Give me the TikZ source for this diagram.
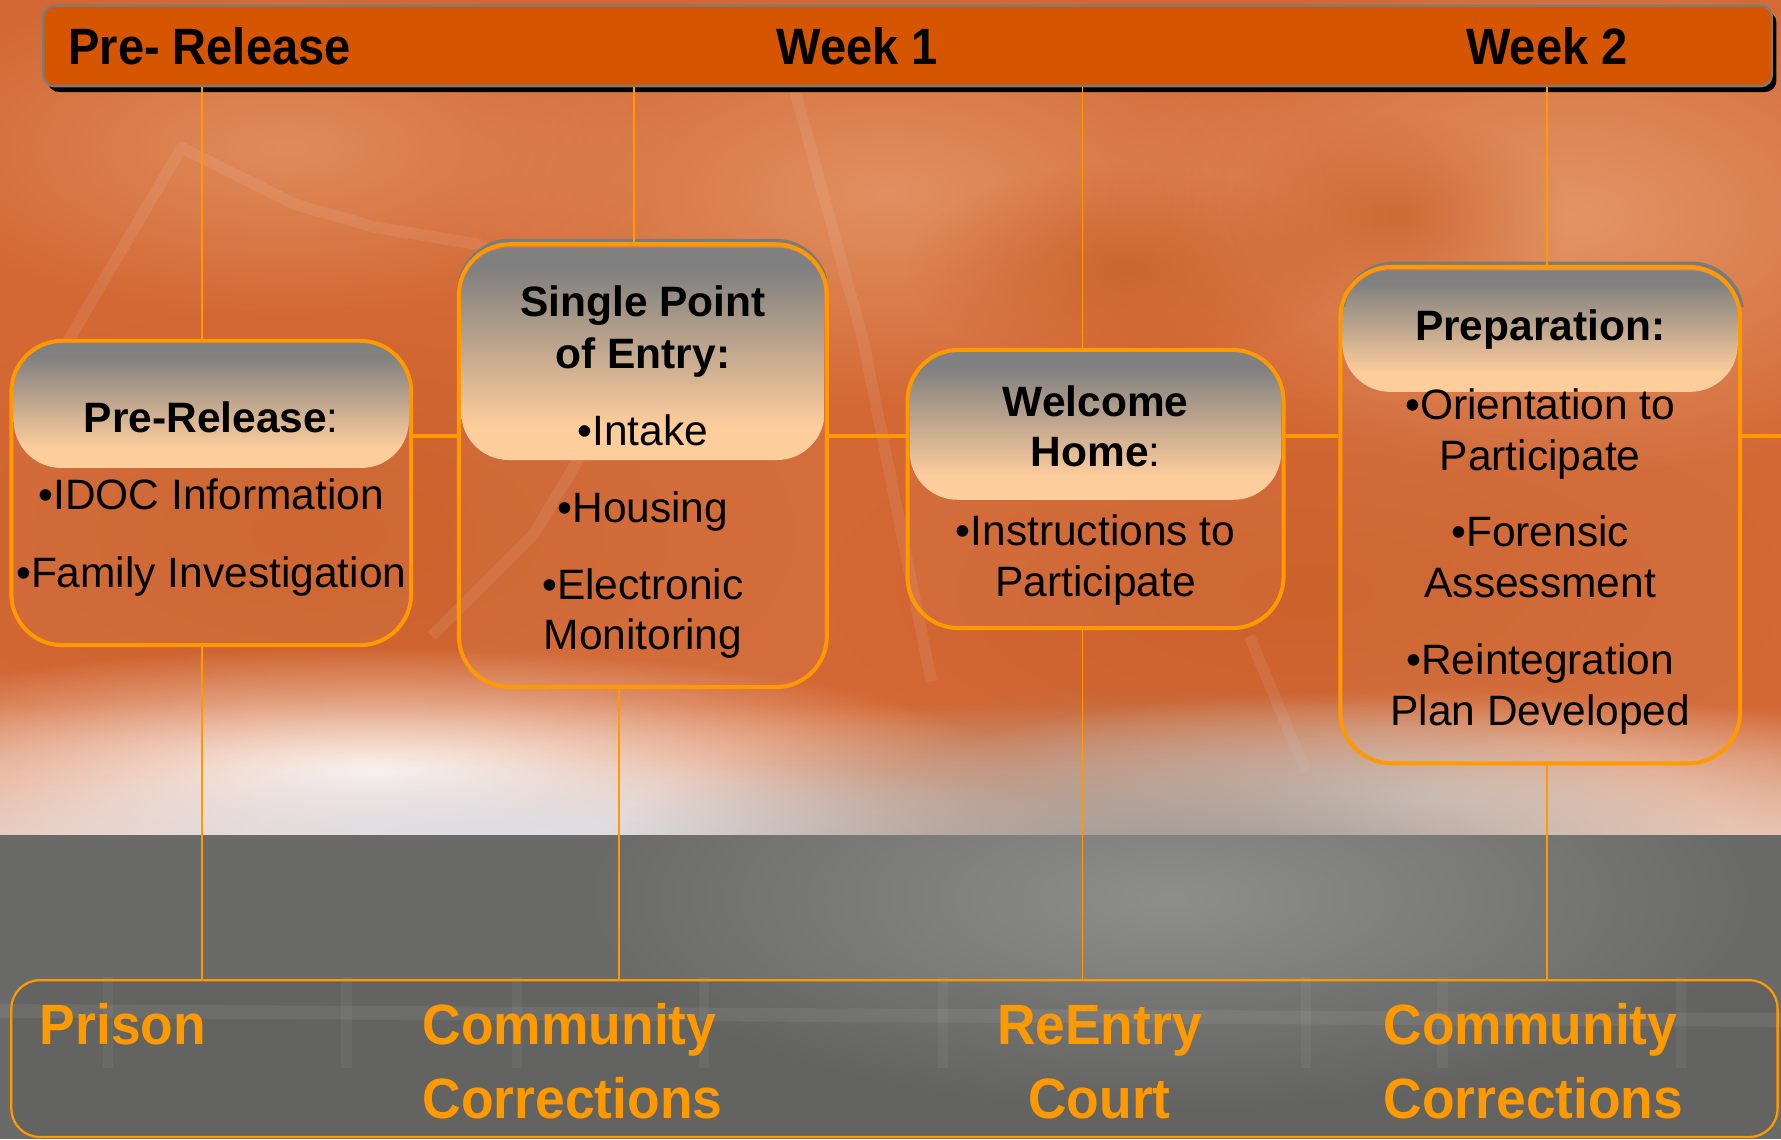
\documentclass[tikz,border=0pt]{standalone}
\usepackage{fontspec}
\setmainfont{Liberation Sans}
\newfontfamily\condf[FakeStretch=0.92]{Liberation Sans}
\newfontfamily\condg[FakeStretch=0.94]{Liberation Sans}
\usetikzlibrary{fadings,shadows}
\definecolor{bgor}{HTML}{D36835}
\definecolor{bglight}{HTML}{E59A6C}
\definecolor{bgdark}{HTML}{C45A22}
\definecolor{bgcream}{HTML}{EEE2DA}
\definecolor{bgblue}{HTML}{DCE0EA}
\definecolor{bggray}{HTML}{6A6A68}
\definecolor{bggrayl}{HTML}{8E8E8C}
\definecolor{barfill}{HTML}{D55500}
\definecolor{lineor}{HTML}{FF9900}
\definecolor{hgray}{HTML}{7B7B7B}
\definecolor{hpeach}{HTML}{FDCB98}
\pgfdeclareverticalshading{hdrshade}{100bp}{color(0bp)=(hpeach); color(25bp)=(hpeach); color(33bp)=(hpeach); color(70bp)=(hgray); color(75bp)=(hgray); color(100bp)=(hgray)}
\tikzfading[name=softcirc, inner color=transparent!0, outer color=transparent!100]
\tikzset{
  vline/.style={draw=lineor, line width=1.5pt},
  hline/.style={draw=lineor, line width=3pt},
  stagebox/.style={draw=lineor, line width=3.5pt, rounded corners=45pt, inner sep=0pt, fill=white, fill opacity=0.04},
  boxshadow/.style={draw=hgray, line width=3.5pt, rounded corners=45pt},
  hdrbox/.style={shading=hdrshade, rounded corners=42pt, inner sep=0pt, draw=none},
  itemtxt/.style={font=\fontsize{37.4}{45}\selectfont, anchor=base, inner sep=0pt},
  hdrtxt/.style={font=\fontsize{37.4}{45}\selectfont, anchor=base, inner sep=0pt},
  bartxt/.style={font=\condf\bfseries\fontsize{45}{50}\selectfont, anchor=base, inner sep=0pt},
  foottxt/.style={font=\condg\bfseries\fontsize{50}{60}\selectfont, text=lineor, anchor=base west, inner sep=0pt},
  fuzzy/.style={path fading=softcirc},
  chartline/.style={draw=white, line width=10pt, opacity=0.08, line join=round},
}
\begin{document}
\begin{tikzpicture}[x=1pt,y=-1pt]
\useasboundingbox (0,0) rectangle (1568,1003);
% ---------- background ----------
\fill[bgor] (0,0) rectangle (1568,740);
\fill[bglight, fuzzy, opacity=0.9] (1380,190) ellipse [x radius=420pt, y radius=230pt];
\fill[bglight, fuzzy, opacity=0.8] (780,170) ellipse [x radius=400pt, y radius=190pt];
\fill[bglight, fuzzy, opacity=0.7] (250,130) ellipse [x radius=350pt, y radius=150pt];
\fill[bgdark, fuzzy, opacity=0.6] (990,235) ellipse [x radius=190pt, y radius=90pt];
\fill[bgdark, fuzzy, opacity=0.6] (1230,190) ellipse [x radius=150pt, y radius=90pt];
\fill[bgdark, fuzzy, opacity=0.5] (280,470) ellipse [x radius=420pt, y radius=200pt];
\fill[bgdark, fuzzy, opacity=0.5] (1150,520) ellipse [x radius=420pt, y radius=170pt];
\shade[top color=bgor, bottom color=bgcream, opacity=0.7] (0,620) rectangle (1568,738);
\fill[white, fuzzy, opacity=0.9] (330,680) ellipse [x radius=560pt, y radius=110pt];
\fill[bgblue, fuzzy, opacity=0.9] (450,735) ellipse [x radius=560pt, y radius=70pt];
\fill[bgcream, fuzzy, opacity=0.8] (1250,705) ellipse [x radius=480pt, y radius=100pt];
\draw[chartline] (60,300) -- (160,130) -- (260,180) -- (330,200) -- (420,215) -- (520,260);
\draw[chartline] (700,80) -- (760,300) -- (820,600);
\draw[chartline] (620,250) -- (560,320) -- (470,470) -- (380,560);
\draw[chartline] (1100,560) -- (1150,680);
\fill[bggray] (0,735) rectangle (1568,1003);
\fill[bggrayl, fuzzy, opacity=1] (1030,790) ellipse [x radius=520pt, y radius=190pt];
\draw[draw=white, line width=12pt, opacity=0.07] (0,890) -- (1568,898);
\foreach \tx in {95,305,455,620,830,1150,1270,1480}
  \draw[draw=white, line width=9pt, opacity=0.05] (\tx,860) -- (\tx,940);
% ---------- top bar ----------
\node[draw=hgray, line width=2pt, fill=barfill, rounded corners=10pt, minimum width=1522pt, minimum height=71pt, inner sep=0pt,
      drop shadow={shadow xshift=4pt, shadow yshift=-5pt, fill=black, opacity=1}] (bar) at (799,40.5) {};
\node[bartxt, anchor=base west] (tPre) at (60,57) {Pre- Release};
\node[bartxt] (tW1) at (755,57) {Week 1};
\node[bartxt] (tW2) at (1362,57) {Week 2};
% ---------- bottom panel ----------
\node[draw=lineor, line width=2pt, fill=black, fill opacity=0.06, rounded corners=25pt, minimum width=1555pt, minimum height=138pt, inner sep=0pt] (panel) at (787.5,932) {};
% ---------- timeline anchors ----------
\coordinate (tl) at (0,384);
\coordinate (redge) at (1568,384);
\coordinate (v1) at (178,0);
\coordinate (v2a) at (558,0);
\coordinate (v2b) at (545,0);
\coordinate (v3) at (953,0);
\coordinate (v4) at (1362,0);
% ---------- headers ----------
\node[hdrbox, minimum width=348pt, minimum height=110pt] (h1) at (186,357) {};
\node[hdrbox, minimum width=320pt, minimum height=187pt] (h2) at (566,311.5) {};
\node[hdrbox, minimum width=327pt, minimum height=130pt] (h3) at (964.5,375) {};
\node[hdrbox, minimum width=348pt, minimum height=107pt] (h4) at (1356,291.5) {};
% ---------- box shadows (top edge only) ----------
\begin{scope}
  \clip (380,190) rectangle (760,245);
  \draw[boxshadow] (404,212) rectangle (728,602);
\end{scope}
\begin{scope}
  \clip (1160,210) rectangle (1560,270);
  \draw[boxshadow] (1182,232) rectangle (1534,669);
\end{scope}
% ---------- boxes ----------
\node[stagebox, minimum width=352pt, minimum height=268pt] (b1) at (186,434) {};
\node[stagebox, minimum width=324pt, minimum height=390pt] (b2) at (566,410) {};
\node[stagebox, minimum width=331pt, minimum height=245pt] (b3) at (964.5,430.5) {};
\node[stagebox, minimum width=352pt, minimum height=437pt] (b4) at (1356,453.5) {};
% ---------- connectors ----------
\draw[vline] (v1 |- bar.south) -- (v1 |- b1.north);
\draw[vline] (v1 |- b1.south) -- (v1 |- panel.north);
\draw[vline] (v2a |- bar.south) -- (v2a |- b2.north);
\draw[vline] (v2b |- b2.south) -- (v2b |- panel.north);
\draw[vline] (v3 |- bar.south) -- (v3 |- b3.north);
\draw[vline] (v3 |- b3.south) -- (v3 |- panel.north);
\draw[vline] (v4 |- bar.south) -- (v4 |- b4.north);
\draw[vline] (v4 |- b4.south) -- (v4 |- panel.north);
\draw[hline] (b1.east |- tl) -- (b2.west |- tl);
\draw[hline] (b2.east |- tl) -- (b3.west |- tl);
\draw[hline] (b3.east |- tl) -- (b4.west |- tl);
\draw[hline] (b4.east |- tl) -- (redge);
% ---------- box texts ----------
\node[hdrtxt] (t1h) at (186,381) {\textbf{Pre-Release}:};
\node[itemtxt] (t1a) at (186,449) {•IDOC Information};
\node[itemtxt] (t1b) at (186,517) {•Family Investigation};
\node[hdrtxt] (t2h1) at (566,279) {\textbf{Single Point}};
\node[hdrtxt] (t2h2) at (566,324) {\textbf{of Entry:}};
\node[itemtxt] (t2a) at (566,392) {•Intake};
\node[itemtxt] (t2b) at (566,460) {•Housing};
\node[itemtxt] (t2c1) at (566,528) {•Electronic};
\node[itemtxt] (t2c2) at (566,572) {Monitoring};
\node[hdrtxt] (t3h1) at (964.5,367) {\textbf{Welcome}};
\node[hdrtxt] (t3h2) at (964.5,411) {\textbf{Home}:};
\node[itemtxt] (t3a1) at (964.5,480) {•Instructions to};
\node[itemtxt] (t3a2) at (964.5,525) {Participate};
\node[hdrtxt] (t4h) at (1356,300) {\textbf{Preparation:}};
\node[itemtxt] (t4a1) at (1356,369) {•Orientation to};
\node[itemtxt] (t4a2) at (1356,414) {Participate};
\node[itemtxt] (t4b1) at (1356,481) {•Forensic};
\node[itemtxt] (t4b2) at (1356,526) {Assessment};
\node[itemtxt] (t4c1) at (1356,594) {•Reintegration};
\node[itemtxt] (t4c2) at (1356,639) {Plan Developed};
% ---------- footer texts ----------
\node[foottxt] (fPrison) at (35,920) {Prison};
\node[foottxt] (fCC1a) at (372,920) {Community};
\node[foottxt] (fCC1b) at (372,985) {Corrections};
\node[foottxt, anchor=base] (fRE1) at (968,920) {ReEntry};
\node[foottxt, anchor=base] (fRE2) at (968,985) {Court};
\node[foottxt] (fCC2a) at (1218,920) {Community};
\node[foottxt] (fCC2b) at (1218,985) {Corrections};
\end{tikzpicture}
\end{document}
